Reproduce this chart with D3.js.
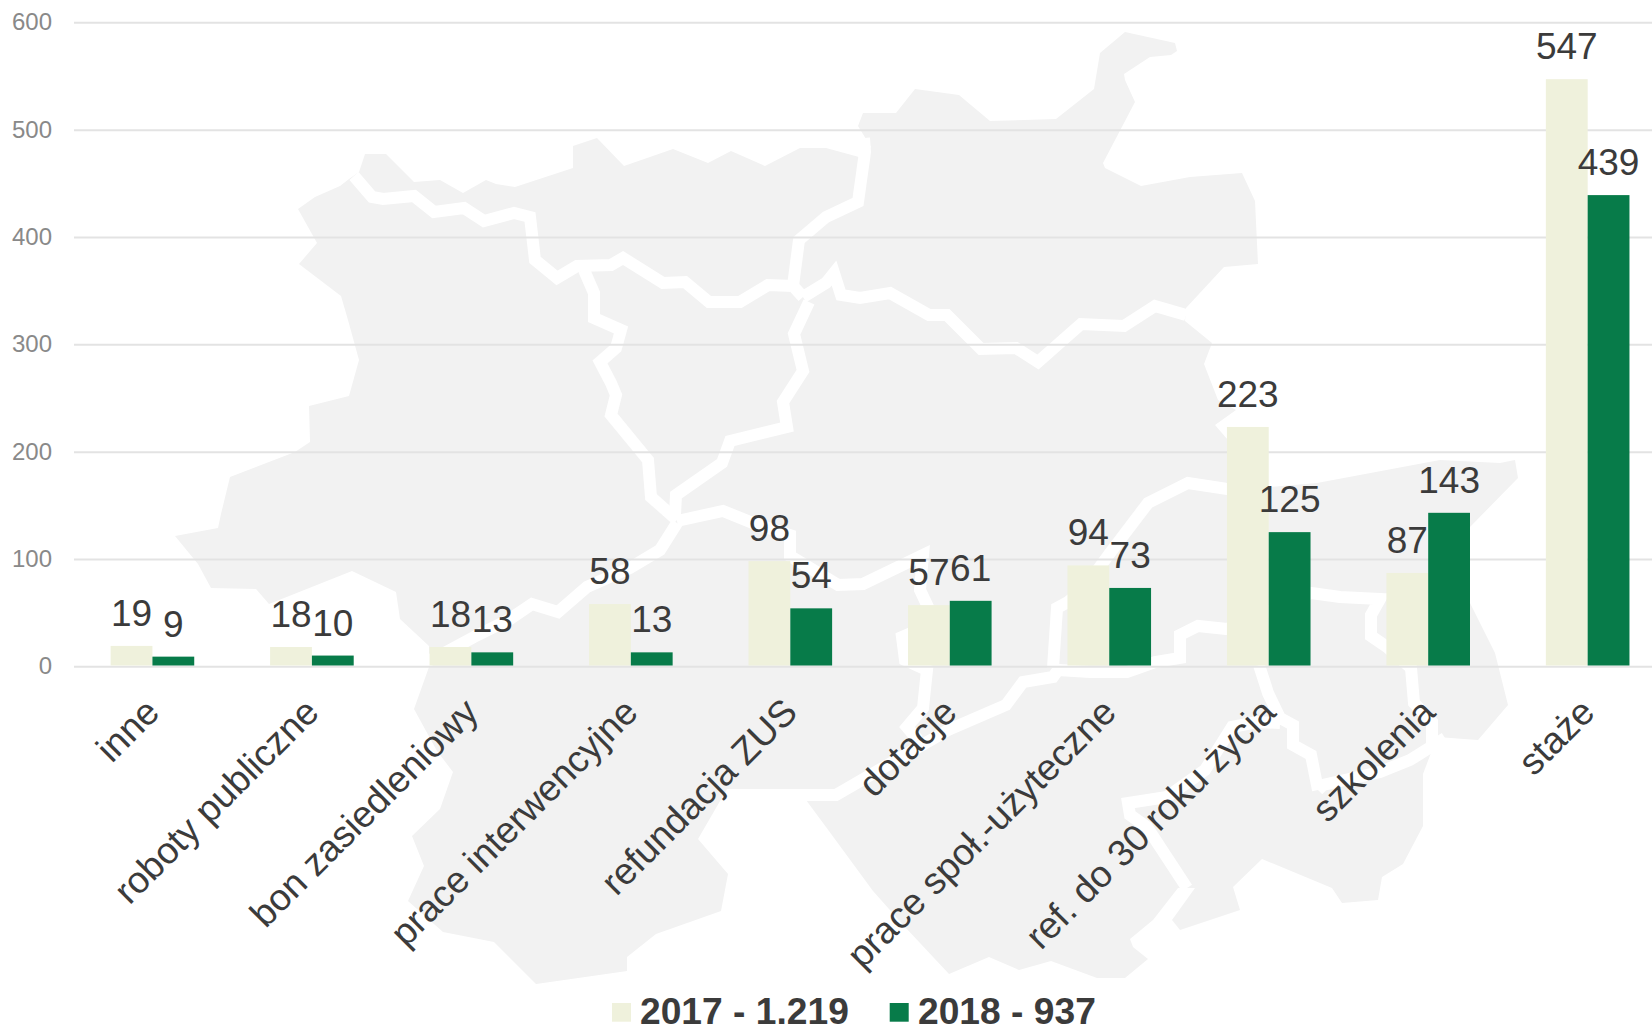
<!DOCTYPE html>
<html lang="pl">
<head>
<meta charset="utf-8">
<title>Wykres</title>
<script src="https://cdn.jsdelivr.net/npm/d3@7/dist/d3.min.js"></script>
<style>
html,body{margin:0;padding:0;background:#fff;overflow:hidden}
svg{display:block}
text{font-family:"Liberation Sans",Arial,sans-serif}
</style>
</head>
<body>
<div id="chart"></div>
<script>
const categories = ["inne","roboty publiczne","bon zasiedleniowy","prace interwencyjne","refundacja ZUS","dotacje","prace społ.-użyteczne","ref. do 30 roku życia","szkolenia","staże"];
const seriesKeys = ["2017","2018"];
const seriesLabels = ["2017 - 1.219","2018 - 937"];
const values2017 = [19,18,18,58,98,57,94,223,87,547];
const values2018 = [9,10,13,13,54,61,73,125,143,439];
const yTicks = [0,100,200,300,400,500,600];
const seriesColors = ["#EFF1DC","#077B49"];

// decorative background map (not data)
const mapOutline = "298,209 315,197 340,186 349,179 359,172 365,154 386,154 414,182 440,180 463,193 486,180 496,184 515,187 573,168 573,146 597,138 624,166 673,149 708,163 731,151 765,166 800,148 826,148 859,157 871,147 858,126 863,113 896,113 915,89 959,95 990,121 1056,119 1094,89 1100,53 1125,32 1175,43 1177,51 1171,55 1150,57 1124,74 1125,80 1135,102 1103,163 1105,168 1141,186 1190,177 1242,173 1255,201 1258,264 1224,267 1186,308 1185,321 1212,343 1204,364 1218,400 1236,410 1215,425 1234,447 1260,480 1269,487 1317,483 1440,460 1500,463 1515,460 1518,478 1470,527 1470,603 1495,653 1508,705 1478,740 1437,737 1423,774 1423,826 1403,864 1382,877 1378,900 1342,903 1332,888 1262,859 1233,887 1240,910 1180,930 1172,920 1195,888 1178,888 1153,920 1130,939 1133,947 1148,959 1125,978 1097,978 1051,961 1019,970 989,957 949,974 905,927 873,891 826,827 806,800 804,789 727,789 698,839 728,874 721,911 656,934 627,957 627,971 536,984 494,942 443,932 408,901 424,866 412,836 440,809 453,772 437,751 414,709 429,667 429,646 400,619 396,592 352,571 269,604 256,589 211,588 198,564 175,536 218,528 221,514 230,477 295,452 310,442 309,406 349,396 359,360 348,320 341,296 299,264 317,243";
const mapBorders = [
 "354,176 372,197 383,199 414,196 434,212 464,208 484,221 514,213 530,217 535,260 557,278 577,266 611,265 623,258 663,283 685,282 709,302 740,302 768,285 793,286 803,297",
 "793,286 799,240 826,217 858,202 865,152 864,138",
 "803,297 826,283 834,273 841,295 860,298 890,293 929,315 947,315 981,349 1016,348 1038,362 1081,324 1124,326 1155,306 1186,315",
 "809,302 794,334 803,371 783,402 787,427 730,441 722,463 676,495 675,515",
 "584,270 594,293 594,318 621,330 616,348 600,362 611,383 616,395 611,415 648,460 651,497 677,520",
 "677,523 660,550 630,568 587,587 558,612 532,604 510,619 474,637 437,657 425,662",
 "677,521 723,511 753,523 790,535 790,556 838,585 863,584 923,555 920,590 928,607 930,625 902,637 905,660 927,670 923,708 907,727 918,740",
 "804,795 836,795 867,777 948,730 1006,705 1023,682 1053,677 1058,670 1090,672 1127,672 1155,662 1180,658 1180,635 1198,626 1227,629 1311,593 1340,597 1380,599 1371,615 1371,636 1387,647 1411,668 1414,703 1432,722 1432,745",
 "1053,668 1057,608 1068,602 1083,590 1110,553 1148,503 1188,483 1227,489 1270,490",
 "1259,665 1268,693 1280,718 1293,725 1293,745 1311,755 1318,790",
 "1187,888 1147,827 1130,815 1128,803 1167,797 1205,770 1232,727 1257,722 1280,723",
 "1318,790 1323,785 1380,772 1410,760 1445,738"
];

const W = 1652, H = 1027;
const svg = d3.select("#chart").append("svg").attr("width",W).attr("height",H).attr("viewBox",`0 0 ${W} ${H}`);

// map
const mapG = svg.append("g");
mapG.append("polygon").attr("points",mapOutline).attr("fill","#F2F2F2");
mapG.selectAll("polyline").data(mapBorders).join("polyline")
  .attr("points",d=>d).attr("fill","none").attr("stroke","#fff")
  .attr("stroke-width",12).attr("stroke-linejoin","miter").attr("stroke-miterlimit",3);

// scales
const y = d3.scaleLinear().domain([0,600]).range([666.3,22.3]);
const x0 = d3.scaleBand().domain(categories).range([72.7,1667.4]).paddingInner(0).paddingOuter(0);
const x1 = d3.scaleBand().domain(seriesKeys).range([0,x0.bandwidth()]).paddingInner(0).paddingOuter(0.9075);

// y axis + grid
const yAxis = d3.axisLeft(y).tickValues(yTicks).tickSize(-(W-74)).tickPadding(22);
const yG = svg.append("g").attr("transform","translate(74,0)").call(yAxis);
yG.select(".domain").remove();
yG.selectAll(".tick line").attr("stroke","#E3E3E3").attr("stroke-width",2);
yG.selectAll(".tick text").attr("fill","#898989").attr("font-size",24).attr("font-family",'"Liberation Sans",Arial,sans-serif');

// bars
const rows = categories.map((c,i)=>({cat:c,vals:[{k:seriesKeys[0],v:values2017[i],c:seriesColors[0]},{k:seriesKeys[1],v:values2018[i],c:seriesColors[1]}]}));
const groups = svg.append("g").selectAll("g").data(rows).join("g")
  .attr("transform",d=>`translate(${x0(d.cat)},0)`);
groups.selectAll("rect").data(d=>d.vals).join("rect")
  .attr("x",d=>x1(d.k)).attr("width",x1.bandwidth())
  .attr("y",d=>y(d.v)).attr("height",d=>y(0)-y(d.v)-0.8)
  .attr("fill",d=>d.c);
groups.selectAll("text").data(d=>d.vals).join("text")
  .attr("x",d=>x1(d.k)+x1.bandwidth()/2).attr("y",d=>y(d.v)-20)
  .attr("text-anchor","middle").attr("font-size",37).attr("fill","#3B3B3B")
  .text(d=>d.v);

// x axis
const xAxis = d3.axisBottom(x0).tickSize(0);
const xG = svg.append("g").attr("transform","translate(0,666.3)").call(xAxis);
xG.select(".domain").remove();
xG.selectAll(".tick line").remove();
xG.selectAll(".tick text")
  .attr("text-anchor","end").attr("x",0).attr("y",0).attr("dy",0)
  .attr("transform","translate(9,48) rotate(-45)")
  .attr("font-size",37.2).attr("fill","#3B3B3B")
  .attr("font-family",'"Liberation Sans",Arial,sans-serif');

// legend
const legendX = [612,889.7], legendTextX = [640,918];
const leg = svg.append("g").selectAll("g").data(seriesLabels).join("g");
leg.append("rect").attr("x",(d,i)=>legendX[i]).attr("y",1003).attr("width",19).attr("height",18.7).attr("fill",(d,i)=>seriesColors[i]);
leg.append("text").attr("x",(d,i)=>legendTextX[i]).attr("y",1024).attr("font-size",37.2).attr("font-weight","700").attr("fill","#3B3B3B").text(d=>d);
</script>
</body>
</html>
